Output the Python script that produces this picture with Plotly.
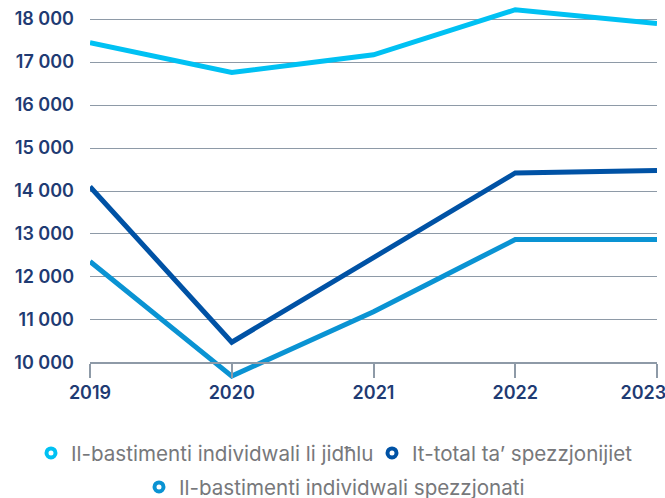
import plotly.graph_objects as go

years = [2019, 2020, 2021, 2022, 2023]
year_labels = ["2019", "2020", "2021", "2022", "2023"]
arriving = [17450, 16760, 17170, 18220, 17900]
total_inspections = [14100, 10480, 12450, 14420, 14480]
inspected = [12360, 9690, 11190, 12870, 12870]

names = [
    "Il-bastimenti individwali li jidħlu",
    "It-total ta’ spezzjonijiet",
    "Il-bastimenti individwali spezzjonati",
]
colors = ["#00c1f3", "#0052a5", "#0a93d3"]
series = [arriving, total_inspections, inspected]
legends = ["legend", "legend2", "legend3"]

fig = go.Figure()
for nm, col, vals in zip(names, colors, series):
    fig.add_trace(go.Scatter(
        x=years, y=vals, mode="lines", name=nm, showlegend=False,
        line=dict(color=col, width=5),
    ))
for nm, col, lg in zip(names, colors, legends):
    fig.add_trace(go.Scatter(
        x=[None], y=[None], mode="markers", name=nm, legend=lg,
        marker=dict(symbol="circle-open", size=9, color=col,
                    line=dict(width=4, color=col)),
    ))

grid = "#8e9aa7"
navy = "#1f3b73"
ymin, ymax = 9600, 18400
W, H = 665, 498
leg_font = dict(size=20.6, color="#77787b")


def leg(cx, cy):
    return dict(orientation="h", xref="container", yref="container",
                x=(cx - 18.5) / W, xanchor="left", y=(H - cy) / H, yanchor="middle",
                font=leg_font, itemwidth=30, bgcolor="rgba(0,0,0,0)")


# last label nudged left so it stays inside the figure, as in the reference
ticktext = year_labels[:-1] + [year_labels[-1] + "\u00a0" * 6]

fig.update_layout(
    width=W, height=H,
    margin=dict(l=90, r=8, t=2, b=117.6),
    paper_bgcolor="white", plot_bgcolor="white",
    separators=". ",
    font=dict(family="Inter, Roboto, sans-serif"),
    xaxis=dict(
        range=[2019, 2023], tickvals=years, ticktext=ticktext,
        showgrid=False, zeroline=False, showline=True, linecolor=grid, linewidth=1.5,
        ticks="outside", ticklen=14, tickcolor=grid, tickwidth=1.5,
        anchor="free", position=(10000 - ymin) / (ymax - ymin),
        tickfont=dict(size=18, color=navy, weight=600),
        automargin=False, ticklabeloverflow="allow",
    ),
    yaxis=dict(
        range=[ymin, ymax], tickvals=[10000, 11000, 12000, 13000, 14000, 15000, 16000, 17000, 18000],
        tickformat=",d", showgrid=True, gridcolor=grid, gridwidth=1.3,
        zeroline=False, showline=False, ticks="", ticklabelstandoff=15,
        tickfont=dict(size=18, color=navy, weight=600),
        automargin=False,
    ),
    legend=leg(49.5, 453),
    legend2=leg(390.5, 453),
    legend3=leg(157.5, 487),
)

fig.write_html(
    "out.html",
    config={"displayModeBar": False},
    post_script="document.body.style.margin='0';document.body.style.overflow='hidden';",
)
